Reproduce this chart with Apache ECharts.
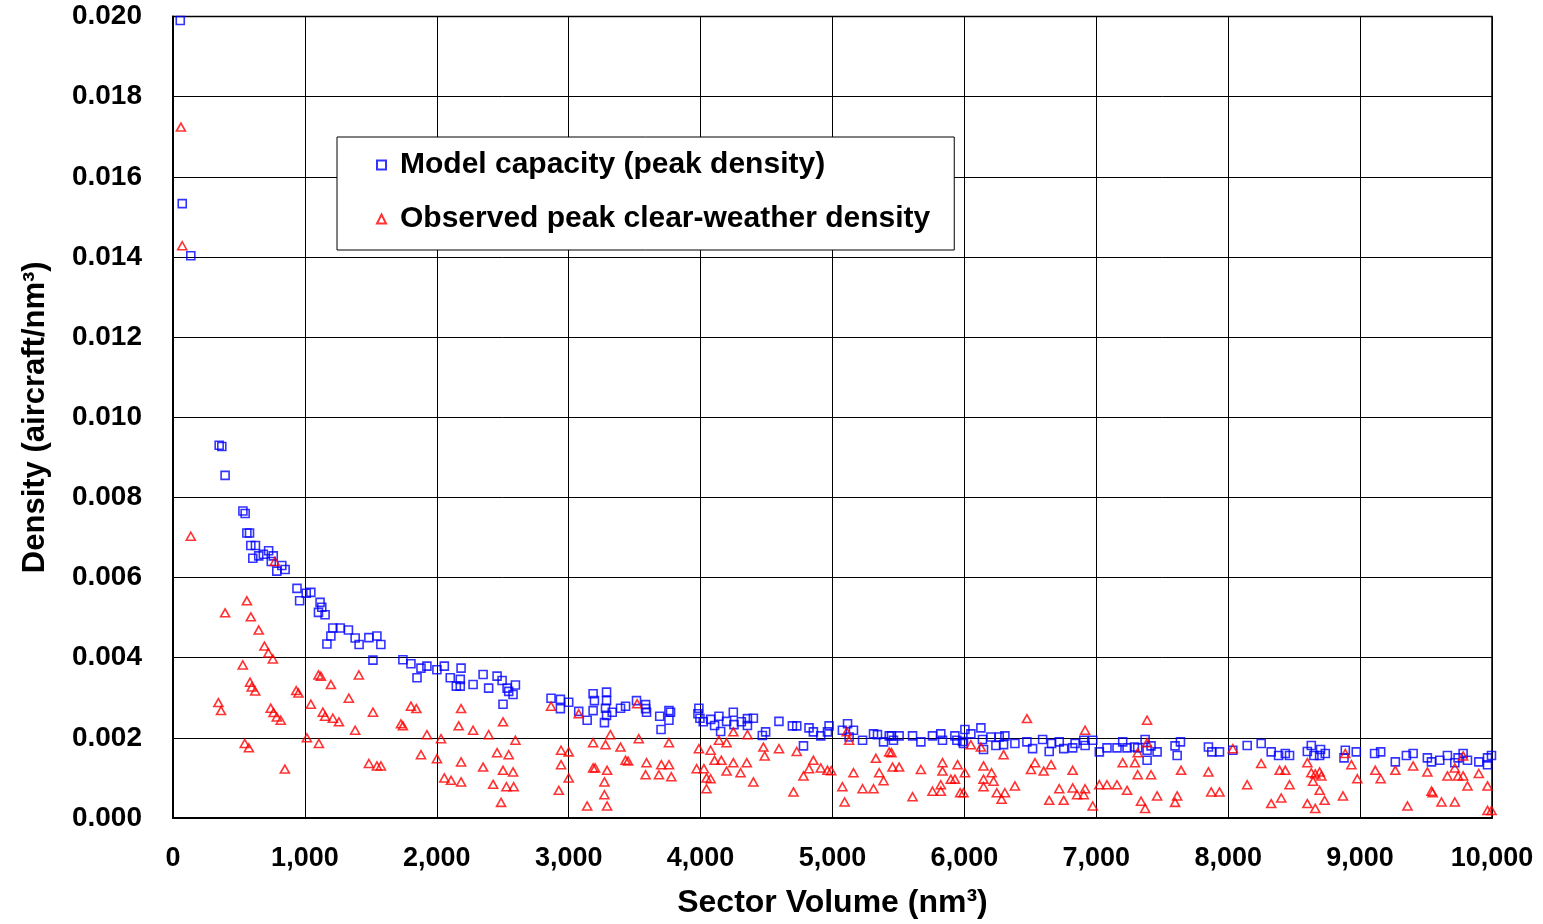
<!DOCTYPE html>
<html>
<head>
<meta charset="utf-8">
<script src="https://cdn.jsdelivr.net/npm/echarts@6/dist/echarts.min.js"></script>
<style>
  html, body { margin: 0; padding: 0; background: #fff; }
  #chart { width: 1543px; height: 924px; }
</style>
</head>
<body>
<div id="chart"></div>
<script>
// Model capacity (peak density) - sector volume (nm3)
var capacityVolume = [55, 70, 135, 350, 370, 395, 530, 547, 560, 580, 590, 625, 605, 650, 685, 725, 760, 745, 825, 850, 787, 940, 960, 1010, 1045, 1115, 1103, 1128, 1153, 1212, 1268, 1197, 1167, 1330, 1381, 1411, 1485, 1546, 1576, 1516, 1743, 1804, 1850, 1880, 1925, 2001, 2057, 2102, 2184, 2178, 2178, 2148, 2275, 2351, 2393, 2457, 2495, 2533, 2596, 2578, 2545, 2502, 2866, 2937, 2937, 3000, 3076, 3140, 3185, 3185, 3195, 3287, 3287, 3279, 3287, 3271, 3330, 3393, 3431, 3514, 3583, 3590, 3583, 3690, 3700, 3760, 3772, 3760, 3980, 3987, 3995, 4020, 4076, 4106, 4139, 4152, 4197, 4248, 4253, 4309, 4355, 4355, 4400, 4468, 4493, 4594, 4696, 4729, 4780, 4822, 4855, 4911, 4962, 4974, 5075, 5114, 5159, 5126, 5228, 5311, 5341, 5387, 5430, 5447, 5462, 5505, 5607, 5670, 5758, 5821, 5834, 5928, 5943, 5986, 6004, 6049, 5993, 6125, 6137, 6145, 6201, 6239, 6264, 6307, 6297, 6383, 6474, 6517, 6593, 6643, 6661, 6719, 6753, 6821, 6839, 6905, 6915, 6973, 7023, 7081, 7157, 7200, 7233, 7289, 7314, 7370, 7385, 7385, 7415, 7461, 7597, 7613, 7638, 7850, 7876, 7934, 8035, 8144, 8250, 8326, 8382, 8433, 8465, 8600, 8630, 8650, 8700, 8693, 8736, 8878, 8888, 8971, 9110, 9156, 9267, 9351, 9402, 9510, 9541, 9604, 9662, 9718, 9743, 9781, 9814, 9900, 9966, 9966, 9996];
// density (aircraft/nm3)
var capacityDensity = [0.0199, 0.01533, 0.01403, 0.0093, 0.00927, 0.00855, 0.00766, 0.0076, 0.00711, 0.00711, 0.0068, 0.0068, 0.00648, 0.00654, 0.00658, 0.00667, 0.00654, 0.0064, 0.0063, 0.0062, 0.00616, 0.00573, 0.00542, 0.00561, 0.00563, 0.00538, 0.00513, 0.00526, 0.00507, 0.00474, 0.00474, 0.00454, 0.00434, 0.00469, 0.00449, 0.00433, 0.0045, 0.00454, 0.00433, 0.00394, 0.00395, 0.00385, 0.0035, 0.00374, 0.00379, 0.0037, 0.00379, 0.0035, 0.00374, 0.00346, 0.00329, 0.00329, 0.00333, 0.00358, 0.00324, 0.00354, 0.00343, 0.00324, 0.00332, 0.00308, 0.00316, 0.00284, 0.00299, 0.00296, 0.00273, 0.00289, 0.00266, 0.00244, 0.0031, 0.00268, 0.00293, 0.00314, 0.00293, 0.00274, 0.00256, 0.00238, 0.00264, 0.00274, 0.00279, 0.00293, 0.00283, 0.00264, 0.00273, 0.00254, 0.00221, 0.00268, 0.00264, 0.00244, 0.0026, 0.00274, 0.00249, 0.0024, 0.00246, 0.00231, 0.00254, 0.00216, 0.00241, 0.00264, 0.00233, 0.0024, 0.00248, 0.00231, 0.00249, 0.00206, 0.00215, 0.00241, 0.0023, 0.0023, 0.0018, 0.00225, 0.00215, 0.00205, 0.00215, 0.0023, 0.00219, 0.00235, 0.00219, 0.00202, 0.00194, 0.0021, 0.00208, 0.0019, 0.00205, 0.00205, 0.00194, 0.00205, 0.00205, 0.0019, 0.00205, 0.0021, 0.00194, 0.00205, 0.00194, 0.00191, 0.00221, 0.0021, 0.00186, 0.00225, 0.00196, 0.00171, 0.00202, 0.00181, 0.00202, 0.00205, 0.00183, 0.00186, 0.0019, 0.00173, 0.00196, 0.00166, 0.00186, 0.0019, 0.00173, 0.00175, 0.00186, 0.00194, 0.00181, 0.00194, 0.00165, 0.00175, 0.00175, 0.0019, 0.00175, 0.00177, 0.00175, 0.00196, 0.00169, 0.00144, 0.0018, 0.00165, 0.0018, 0.00156, 0.0019, 0.00177, 0.00165, 0.00165, 0.00169, 0.00181, 0.00186, 0.00165, 0.00156, 0.00161, 0.00156, 0.00166, 0.00181, 0.00156, 0.00171, 0.00156, 0.00161, 0.0015, 0.00169, 0.00165, 0.00161, 0.00165, 0.0014, 0.00156, 0.00161, 0.0015, 0.0014, 0.00144, 0.00156, 0.00138, 0.0015, 0.00161, 0.00144, 0.0014, 0.00133, 0.0015, 0.00156];

// Observed peak clear-weather density
var observedVolume = [60, 70, 135, 772, 560, 395, 590, 650, 693, 723, 757, 529, 1103, 1121, 1197, 1409, 584, 597, 623, 934, 951, 1333, 344, 364, 1045, 741, 762, 787, 817, 1136, 1153, 1212, 1258, 1516, 1381, 1728, 1743, 1015, 1106, 544, 575, 848, 1485, 1546, 1576, 1804, 1845, 2184, 2166, 2275, 2393, 2502, 2596, 1925, 2032, 1880, 2001, 2184, 2351, 2457, 2545, 2502, 2578, 2057, 2108, 2184, 2427, 2528, 2583, 2487, 2866, 3076, 3519, 3316, 3185, 3279, 3393, 3531, 2942, 3000, 2942, 3000, 2925, 3185, 3200, 3291, 3271, 3271, 3291, 3140, 3431, 3450, 3590, 3583, 3760, 3702, 3760, 3684, 3778, 3987, 4076, 4139, 4197, 4248, 4355, 4106, 4157, 4248, 4350, 3970, 4025, 4045, 4076, 4045, 4197, 4303, 4400, 4476, 4486, 4594, 4729, 4855, 4822, 4780, 4911, 4962, 4990, 4704, 5108, 5126, 5075, 5092, 5159, 5228, 5311, 5329, 5354, 5387, 5430, 5447, 5455, 5505, 5670, 5607, 5758, 5821, 5821, 5834, 5834, 5897, 5928, 5948, 6004, 5968, 5993, 6049, 6125, 6297, 6145, 6206, 6145, 6221, 6145, 6246, 6307, 6282, 6383, 6474, 6535, 6505, 6601, 6657, 6719, 6643, 6753, 6821, 6821, 6854, 6915, 6905, 6915, 6973, 7023, 7081, 7157, 7233, 7200, 7293, 7314, 7385, 7385, 7314, 7415, 7339, 7370, 7461, 7597, 7613, 7643, 7850, 7871, 7934, 8035, 8144, 8250, 8326, 8390, 8433, 8402, 8465, 8600, 8630, 8693, 8706, 8643, 8660, 8693, 8731, 8600, 8660, 8888, 8934, 8979, 8870, 9115, 9156, 9267, 9402, 9359, 9510, 9541, 9550, 9617, 9662, 9718, 9718, 9743, 9781, 9781, 9814, 9900, 9966, 9966, 9996];
var observedDensity = [0.01724, 0.01428, 0.00703, 0.0064, 0.00542, 0.00512, 0.00502, 0.00469, 0.00429, 0.00412, 0.00397, 0.00382, 0.00357, 0.00354, 0.00333, 0.00357, 0.00339, 0.00327, 0.00317, 0.00318, 0.00312, 0.00299, 0.00288, 0.00268, 0.00284, 0.00274, 0.00263, 0.00252, 0.00244, 0.00264, 0.00254, 0.00249, 0.0024, 0.00264, 0.00219, 0.00235, 0.0023, 0.002, 0.00186, 0.00186, 0.00175, 0.00122, 0.00136, 0.0013, 0.0013, 0.00279, 0.00273, 0.00273, 0.0023, 0.00219, 0.00208, 0.0024, 0.00194, 0.00208, 0.00198, 0.00158, 0.00148, 0.0014, 0.00127, 0.00163, 0.00158, 0.00119, 0.00115, 0.001, 0.00094, 0.0009, 0.00084, 0.00078, 0.00078, 0.00039, 0.00279, 0.0026, 0.00285, 0.00208, 0.00188, 0.00183, 0.00177, 0.00198, 0.00169, 0.00165, 0.00133, 0.001, 0.00069, 0.00125, 0.00125, 0.00119, 0.0009, 0.00058, 0.0003, 0.0003, 0.00144, 0.00142, 0.00138, 0.00108, 0.00188, 0.00133, 0.00133, 0.00108, 0.00103, 0.00173, 0.00169, 0.00194, 0.00188, 0.00215, 0.00208, 0.00144, 0.00144, 0.00138, 0.00138, 0.00123, 0.00123, 0.001, 0.00098, 0.00073, 0.00117, 0.00113, 0.0009, 0.00177, 0.00155, 0.00173, 0.00166, 0.00144, 0.00123, 0.00105, 0.00125, 0.00119, 0.00118, 0.00065, 0.00215, 0.00194, 0.00078, 0.0004, 0.00113, 0.00073, 0.00073, 0.00149, 0.00113, 0.00093, 0.00165, 0.00163, 0.00127, 0.00127, 0.00121, 0.00053, 0.00067, 0.00067, 0.00083, 0.00138, 0.00117, 0.00097, 0.00097, 0.00133, 0.00113, 0.00063, 0.00063, 0.00183, 0.00177, 0.00158, 0.0013, 0.00113, 0.00097, 0.00092, 0.00078, 0.00063, 0.00063, 0.00047, 0.0008, 0.00248, 0.00138, 0.00121, 0.00117, 0.00133, 0.00073, 0.00044, 0.00044, 0.00075, 0.00119, 0.00058, 0.00073, 0.00058, 0.00219, 0.0003, 0.00083, 0.00083, 0.00083, 0.00069, 0.00138, 0.00138, 0.00163, 0.00244, 0.00188, 0.00108, 0.00108, 0.00042, 0.00024, 0.00055, 0.00039, 0.00055, 0.00119, 0.00115, 0.00065, 0.00065, 0.00173, 0.00083, 0.00136, 0.00036, 0.00119, 0.00119, 0.0005, 0.00083, 0.00138, 0.00113, 0.00115, 0.00105, 0.00092, 0.0011, 0.00069, 0.00044, 0.00036, 0.00024, 0.00161, 0.00133, 0.00098, 0.00055, 0.00119, 0.00098, 0.00119, 0.0013, 0.0003, 0.00115, 0.00067, 0.00063, 0.0004, 0.00105, 0.00125, 0.0004, 0.00105, 0.00155, 0.00105, 0.0008, 0.00111, 0.0008, 0.00019, 0.00019];

var seriesNames = ['Model capacity (peak density)', 'Observed peak clear-weather density'];

function zip(xs, ys) {
  return xs.map(function (x, i) { return [x, ys[i]]; });
}

var fontFamily = '"Liberation Sans", Arial, sans-serif';
var chart = echarts.init(document.getElementById('chart'));

chart.setOption({
  animation: false,
  backgroundColor: '#fff',
  grid: {
    left: 173,
    right: 51,
    top: 16.5,
    bottom: 104.5,
    show: true,
    borderColor: '#000',
    borderWidth: 1.5
  },
  legend: {
    orient: 'vertical',
    left: 337,
    top: 137,
    padding: [13, 24, 16, 39],
    itemGap: 24,
    itemWidth: 9,
    itemHeight: 9,
    backgroundColor: '#fff',
    borderColor: '#000',
    borderWidth: 1,
    selectedMode: false,
    textStyle: {
      fontFamily: fontFamily,
      fontWeight: 'bold',
      fontSize: 30,
      color: '#000',
      padding: [0, 0, 0, 9]
    },
    data: [
      { name: seriesNames[0], icon: 'rect' },
      { name: seriesNames[1], icon: 'triangle' }
    ]
  },
  xAxis: {
    type: 'value',
    min: 0,
    max: 10000,
    interval: 1000,
    name: 'Sector Volume (nm\u00b3)',
    nameLocation: 'middle',
    nameGap: 69,
    nameTextStyle: {
      fontFamily: fontFamily,
      fontWeight: 'bold',
      fontSize: 32,
      color: '#000'
    },
    axisLine: { show: true, lineStyle: { color: '#000', width: 2 } },
    axisTick: { show: false },
    splitLine: { show: true, lineStyle: { color: '#000', width: 1 } },
    axisLabel: {
      margin: 27,
      fontFamily: fontFamily,
      fontWeight: 'bold',
      fontSize: 27,
      color: '#000',
      formatter: function (v) {
        return String(v).replace(/\B(?=(\d{3})+(?!\d))/g, ',');
      }
    }
  },
  yAxis: {
    type: 'value',
    min: 0,
    max: 0.02,
    interval: 0.002,
    name: 'Density (aircraft/nm\u00b3)',
    nameLocation: 'middle',
    nameGap: 122,
    nameTextStyle: {
      fontFamily: fontFamily,
      fontWeight: 'bold',
      fontSize: 31,
      color: '#000'
    },
    axisLine: { show: true, lineStyle: { color: '#000', width: 2 } },
    axisTick: { show: false },
    splitLine: { show: true, lineStyle: { color: '#000', width: 1 } },
    axisLabel: {
      margin: 31,
      fontFamily: fontFamily,
      fontWeight: 'bold',
      fontSize: 28,
      color: '#000',
      formatter: function (v) { return v.toFixed(3); }
    }
  },
  series: [
    {
      name: seriesNames[0],
      type: 'scatter',
      symbol: 'rect',
      symbolSize: 8,
      itemStyle: {
        color: 'rgba(255,255,255,0)',
        borderColor: '#0000ff',
        borderWidth: 1.6
      },
      data: zip(capacityVolume, capacityDensity)
    },
    {
      name: seriesNames[1],
      type: 'scatter',
      symbol: 'triangle',
      symbolSize: [9, 8],
      itemStyle: {
        color: 'rgba(255,255,255,0)',
        borderColor: '#ff0000',
        borderWidth: 1.6
      },
      data: zip(observedVolume, observedDensity)
    }
  ]
});
</script>
</body>
</html>
